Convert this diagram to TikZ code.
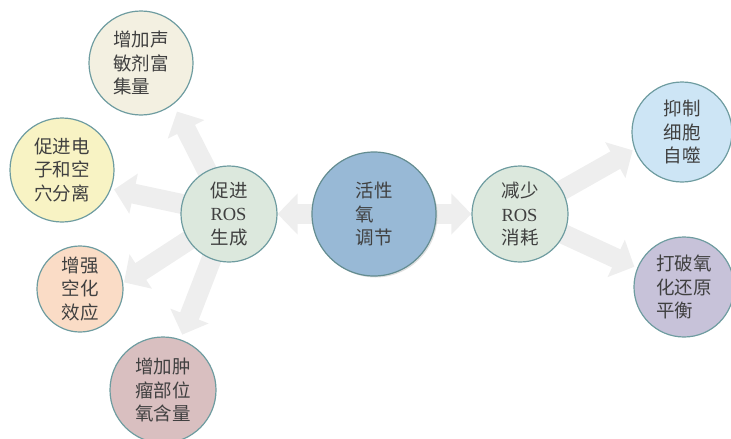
\documentclass[tikz,border=0pt]{standalone}
\usepackage{fontspec}
\setmainfont{Liberation Serif}
\newfontfamily\cjk{Noto Sans CJK SC}
\usetikzlibrary{arrows.meta,backgrounds,shadows}
\definecolor{bord}{RGB}{110,156,160}
\definecolor{arr}{RGB}{238,238,238}
\definecolor{txt}{RGB}{64,64,64}
\definecolor{cA}{RGB}{243,240,225}
\definecolor{cB}{RGB}{248,243,196}
\definecolor{cC}{RGB}{250,220,198}
\definecolor{cD}{RGB}{217,191,192}
\definecolor{cG}{RGB}{220,232,221}
\definecolor{cM}{RGB}{152,185,214}
\definecolor{cL}{RGB}{205,229,245}
\definecolor{cP}{RGB}{199,194,217}
\begin{document}
\begin{tikzpicture}[x=1pt,y=-1pt,
  bub/.style={circle,draw=bord,line width=1.2pt,inner sep=0pt,align=left,
    font=\cjk\fontsize{18.5}{23.5}\selectfont,text=txt},
  bigarrow/.style={draw=arr,line width=20pt,-{Triangle[length=20pt,width=40pt]}}]
\useasboundingbox (0,0) rectangle (731,439);
\node[bub,fill=cA,minimum size=104pt] (n1) at (141,63) {增加声\\敏剂富\\集量};
\node[bub,fill=cB,minimum size=104pt] (n2) at (62,170) {促进电\\子和空\\穴分离};
\node[bub,fill=cC,minimum size=86pt] (n3) at (80,289) {增强\\空化\\效应};
\node[bub,fill=cD,minimum size=106pt] (n4) at (163,390) {增加肿\\瘤部位\\氧含量};
\node[bub,fill=cG,minimum size=96pt] (p) at (229,214) {促进\\{\rmfamily ROS}\\生成};
\node[bub,fill=cM,minimum size=124pt,draw=bord!90!black,
  drop shadow={opacity=0.25,shadow xshift=1.5pt,shadow yshift=-1.5pt}] (c) at (374,214) {活性\\氧\\调节};
\node[bub,fill=cG,minimum size=96pt] (d) at (520,214) {减少\\{\rmfamily ROS}\\消耗};
\node[bub,fill=cL,minimum size=100pt] (a) at (682,132) {抑制\\细胞\\自噬};
\node[bub,fill=cP,minimum size=100pt] (b) at (684,287) {打破氧\\化还原\\平衡};
\begin{scope}[on background layer]
\draw[bigarrow,shorten >=8pt] (p.center) -- (n1.-52);
\draw[bigarrow,shorten >=3pt] (p.center) -- (n2.-21);
\draw[bigarrow,shorten >=1pt] (p.center) -- (n3.8);
\draw[bigarrow,shorten >=5pt] (p.center) -- (n4.71);
\draw[bigarrow] (c.center) -- (p.0);
\draw[bigarrow] (c.center) -- (d.180);
\draw[bigarrow,shorten >=2pt] (d.center) -- (a.200);
\draw[bigarrow,shorten >=3pt] (d.center) -- (b.158);
\end{scope}
\end{tikzpicture}
\end{document}
